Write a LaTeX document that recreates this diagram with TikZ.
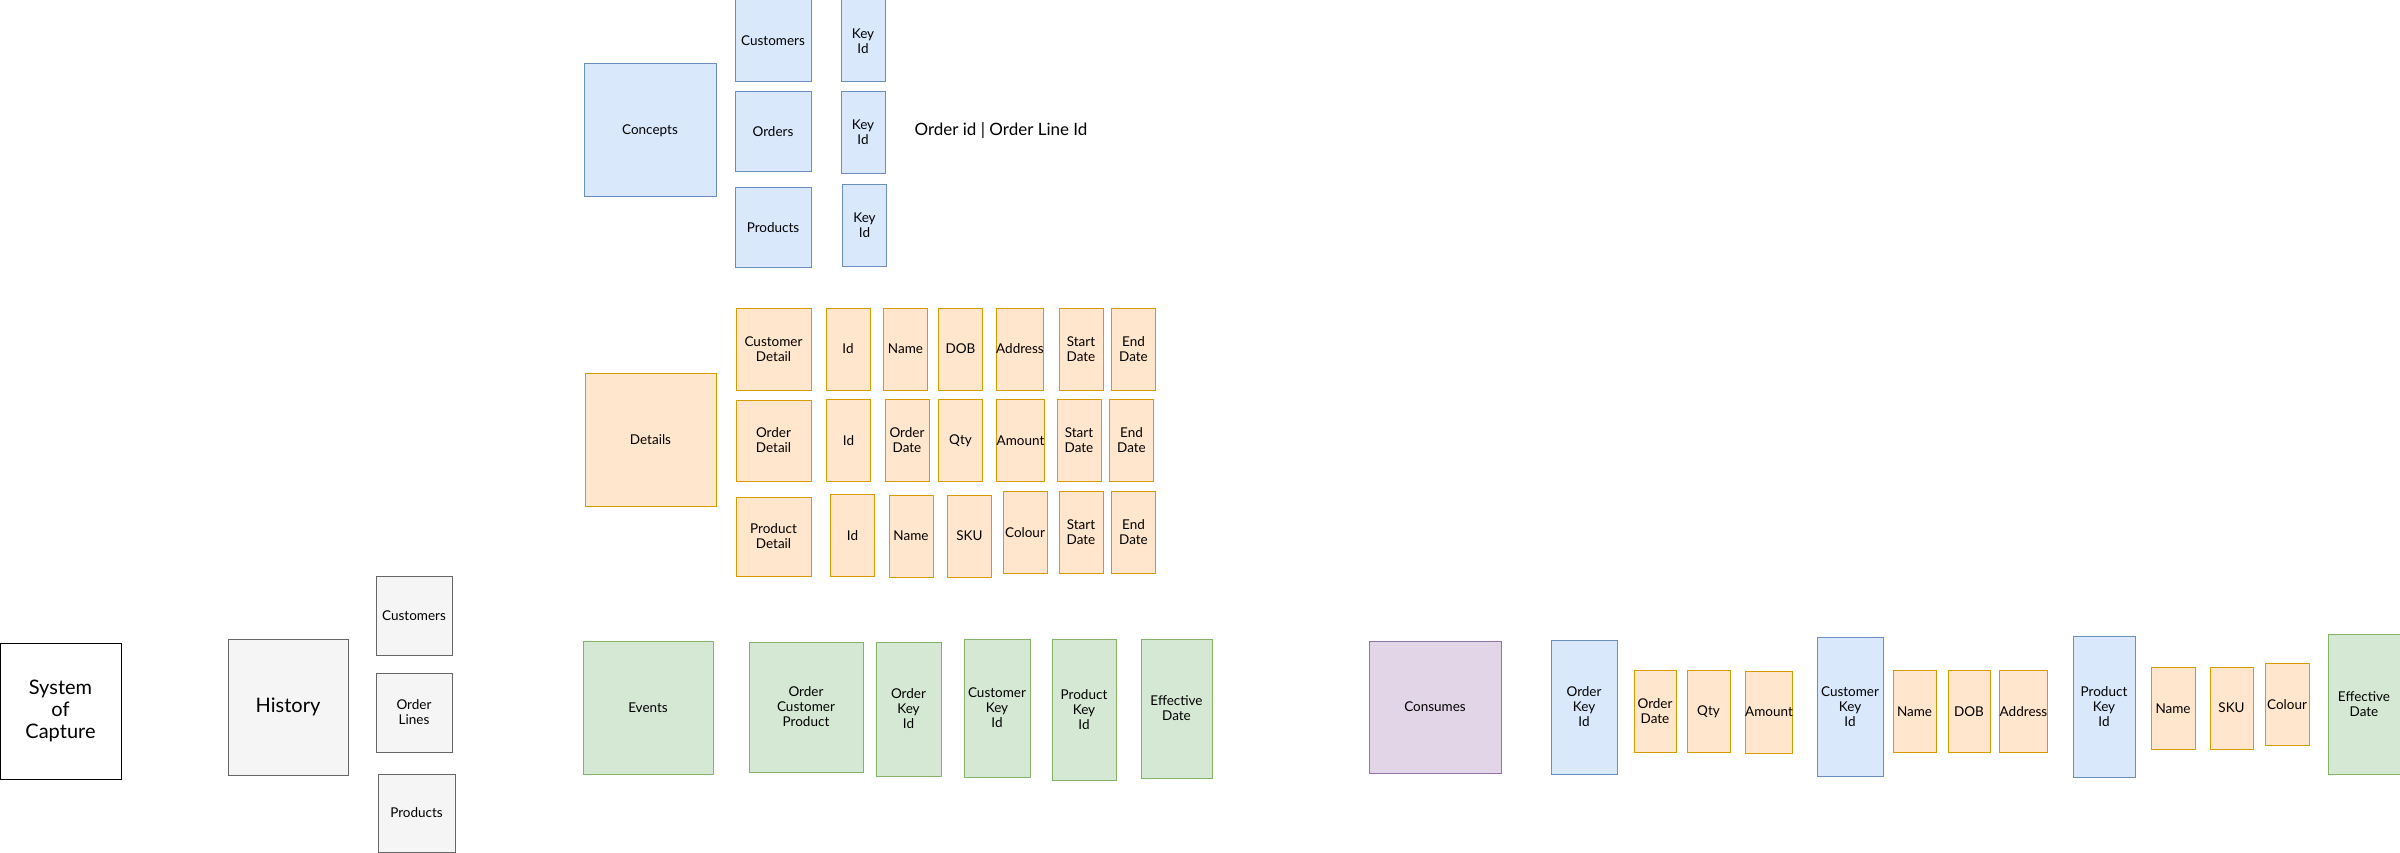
\documentclass[tikz,border=0pt]{standalone}
\usepackage{fontspec}
\setmainfont{Lato}
\usepackage{tikz}
\usetikzlibrary{shapes.geometric, positioning}
\definecolor{blueFill}{HTML}{DAE8FC}
\definecolor{blueLine}{HTML}{6C8EBF}
\definecolor{orangeFill}{HTML}{FFE6CC}
\definecolor{orangeLine}{HTML}{D79B00}
\definecolor{greenFill}{HTML}{D5E8D4}
\definecolor{greenLine}{HTML}{82B366}
\definecolor{purpleFill}{HTML}{E1D5E7}
\definecolor{purpleLine}{HTML}{9673A6}
\definecolor{grayFill}{HTML}{F5F5F5}
\definecolor{grayLine}{HTML}{666666}
\tikzstyle{box} = [rectangle,
line width=1pt,
inner sep=0pt,
align=center,
font=\fontsize{13.5}{15}\selectfont]
\tikzstyle{concept} = [box, draw=blueLine, fill=blueFill]
\tikzstyle{detail} = [box, draw=orangeLine, fill=orangeFill]
\tikzstyle{event} = [box, draw=greenLine, fill=greenFill]
\tikzstyle{consume} = [box, draw=purpleLine, fill=purpleFill]
\tikzstyle{history} = [box, draw=grayLine, fill=grayFill]
\tikzstyle{capture} = [box, draw=black, fill=white]
\tikzstyle{field} = [minimum width=44, minimum height=82]
\tikzstyle{big} = [font=\fontsize{20}{22}\selectfont]
\begin{document}
\begin{tikzpicture}[x=1pt, y=-1pt]
\useasboundingbox (0,0) rectangle (2400,853);

% concepts
\node (concepts) [concept, minimum width=132, minimum height=133] at (650,130.5) {Concepts};
\node (cust) [concept, minimum width=76, minimum height=82] at (773,41) {Customers};
\node (ord) [concept, minimum width=76, minimum height=80] at (773,132) {Orders};
\node (prod) [concept, minimum width=76, minimum height=79] at (773,227.5) {Products};
\node (custkey) [concept, field] at (863,41) {Key\\Id};
\node (ordkey) [concept, field] at (863,132.5) {Key\\Id};
\node (prodkey) [concept, field] at (864.5,225.5) {Key\\Id};
\node (ordnote) [font=\fontsize{17}{19}\selectfont] at (1001,130) {Order id | Order Line Id};

% details
\node (details) [detail, minimum width=131, minimum height=133] at (650.5,439.5) {Details};
\node (cdetail) [detail, minimum width=75, minimum height=82] at (773.5,349) {Customer\\Detail};
\node (cdid) [detail, field] at (848,349) {Id};
\node (cdname) [detail, field] at (905.5,349) {Name};
\node (cddob) [detail, field] at (960.5,349) {DOB};
\node (cdaddr) [detail, field] at (1020,349) {Address};
\node (cdstart) [detail, field] at (1081,349) {Start\\Date};
\node (cdend) [detail, field] at (1133.5,349) {End\\Date};

\node (odetail) [detail, minimum width=75, minimum height=81] at (773.5,440.5) {Order\\Detail};
\node (odid) [detail, field] at (848.5,440.5) {Id};
\node (oddate) [detail, field] at (907,440.5) {Order\\Date};
\node (odqty) [detail, field] at (960.5,440.5) {Qty};
\node (odamount) [detail, field] at (1020.5,440.5) {Amount};
\node (odstart) [detail, field] at (1079,440.5) {Start\\Date};
\node (odend) [detail, field] at (1131.5,440.5) {End\\Date};

\node (pdetail) [detail, minimum width=75, minimum height=79] at (773.5,536.5) {Product\\Detail};
\node (pdid) [detail, field] at (852.5,535.5) {Id};
\node (pdname) [detail, field] at (911,536) {Name};
\node (pdsku) [detail, field] at (969.5,536) {SKU};
\node (pdcolour) [detail, field] at (1025,532.5) {Colour};
\node (pdstart) [detail, field] at (1081,532) {Start\\Date};
\node (pdend) [detail, field] at (1133.5,532.5) {End\\Date};

% history
\node (soc) [capture, big, minimum width=121, minimum height=136] at (60.5,711) {System\\of\\Capture};
\node (hist) [history, big, minimum width=120, minimum height=136] at (288,707) {History};
\node (hcust) [history, minimum width=76, minimum height=79] at (414,615.5) {Customers};
\node (hlines) [history, minimum width=76, minimum height=79] at (414,712.5) {Order\\Lines};
\node (hprod) [history, minimum width=77, minimum height=78] at (416.5,813) {Products};

% events
\node (events) [event, minimum width=130, minimum height=133] at (648,707.5) {Events};
\node (ocp) [event, minimum width=114, minimum height=130] at (806,707) {Order\\Customer\\Product};
\node (eord) [event, minimum width=65, minimum height=134] at (908.5,709) {Order\\Key\\Id};
\node (ecust) [event, minimum width=66, minimum height=138] at (997,708) {Customer\\Key\\Id};
\node (eprod) [event, minimum width=64, minimum height=141] at (1084,709.5) {Product\\Key\\Id};
\node (edate) [event, minimum width=71, minimum height=139] at (1176.5,708.5) {Effective\\Date};

% consumes
\node (consumes) [consume, minimum width=132, minimum height=132] at (1435,707) {Consumes};
\node (cord) [concept, minimum width=66, minimum height=134] at (1584,707) {Order\\Key\\Id};
\node (corddate) [detail, field, minimum width=42] at (1655,711) {Order\\Date};
\node (cqty) [detail, field, minimum width=43] at (1708.5,711.5) {Qty};
\node (camount) [detail, field] at (1769,712) {Amount};
\node (ccust) [concept, minimum width=66, minimum height=139] at (1850,706.5) {Customer\\Key\\Id};
\node (cname) [detail, field, minimum width=43] at (1914.5,711.5) {Name};
\node (cdob) [detail, field, minimum width=42] at (1969,711.5) {DOB};
\node (caddr) [detail, field, minimum width=43] at (2023.5,711.5) {Address};
\node (cprod) [concept, minimum width=62, minimum height=141] at (2104,706.5) {Product\\Key\\Id};
\node (cpname) [detail, field] at (2173,708.5) {Name};
\node (cpsku) [detail, field, minimum width=43] at (2231.5,708) {SKU};
\node (cpcolour) [detail, field] at (2287,704.5) {Colour};
\node (cdate) [event, minimum width=72, minimum height=140] at (2364,704) {Effective\\Date};
\end{tikzpicture}
\end{document}
